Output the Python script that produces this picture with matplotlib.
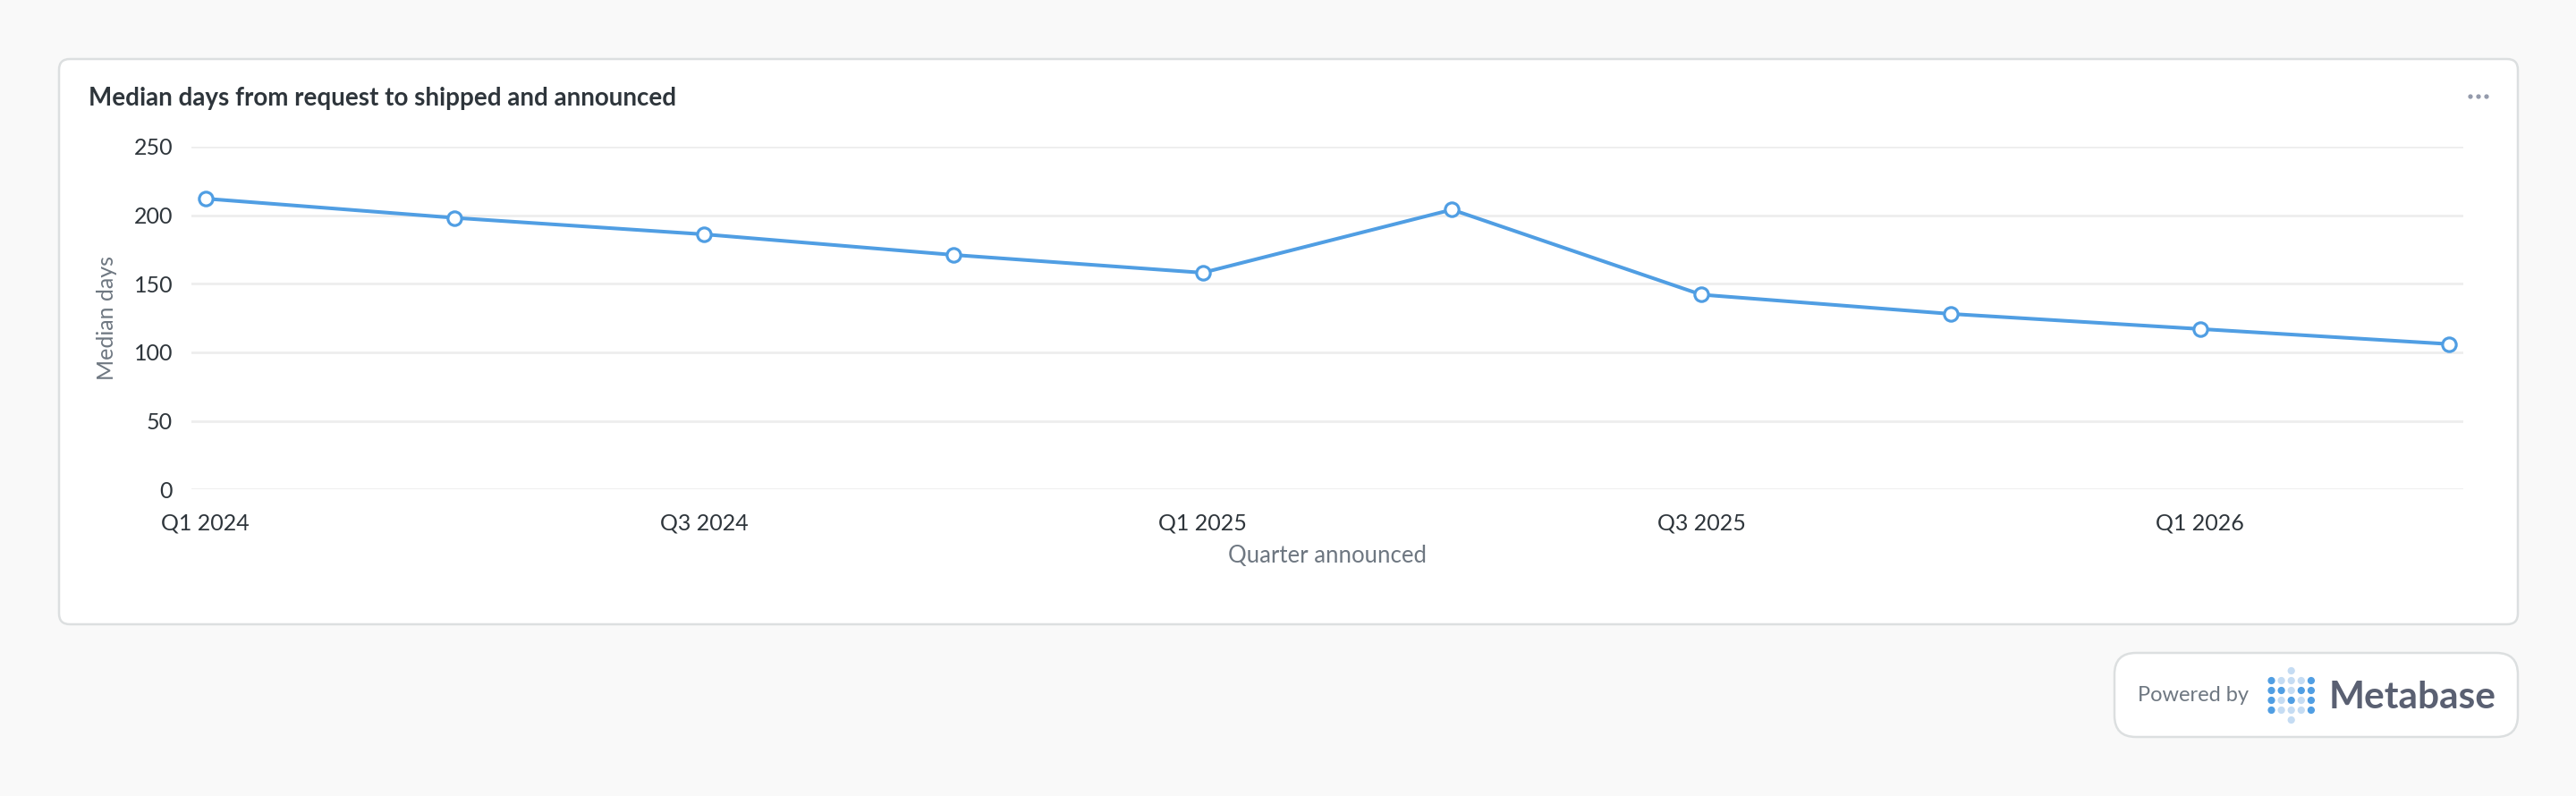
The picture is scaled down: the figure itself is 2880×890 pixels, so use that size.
import matplotlib.pyplot as plt
from matplotlib.patches import FancyBboxPatch, Circle

# chart data
quarters = ['Q1 2024', 'Q2 2024', 'Q3 2024', 'Q4 2024', 'Q1 2025',
            'Q2 2025', 'Q3 2025', 'Q4 2025', 'Q1 2026', 'Q2 2026']
median_days = [212, 198, 186, 171, 158, 204, 142, 128, 117, 106]
y_ticks = [0, 50, 100, 150, 200, 250]

title = 'Median days from request to shipped and announced'
x_label = 'Quarter announced'
y_label = 'Median days'

BLUE = '#509ee3'
TEXT_DARK = '#2e353b'
TEXT_GRAY = '#6e7781'
GRID = '#eeeeee'
BORDER = '#dcdfe0'
BG = '#f9f9f9'

W, H = 2880, 890
fig = plt.figure(figsize=(W / 100, H / 100), dpi=100)
fig.patch.set_facecolor(BG)

# overlay in pixel coordinates for the card, badge and decorations
bg = fig.add_axes([0, 0, 1, 1], zorder=0)
bg.set_xlim(0, W)
bg.set_ylim(H, 0)
bg.axis('off')

card = FancyBboxPatch((66, 66), 2815 - 66, 698 - 66,
                      boxstyle='round,pad=0,rounding_size=12',
                      facecolor='white', edgecolor=BORDER, linewidth=1.8)
bg.add_patch(card)

badge = FancyBboxPatch((2364, 730), 2815 - 2364, 824 - 730,
                       boxstyle='round,pad=0,rounding_size=24',
                       facecolor='white', edgecolor=BORDER, linewidth=1.8)
bg.add_patch(badge)

bg.text(99, 110, title, fontsize=20, fontweight='bold', family='Lato',
        color=TEXT_DARK, va='center', ha='left')

# "..." menu
for dx in (2762, 2771, 2780):
    bg.add_patch(Circle((dx, 108), 1.9, color='#949aab'))

# Powered by Metabase badge
bg.text(2390, 778, 'Powered by', fontsize=17, family='Lato',
        color=TEXT_GRAY, va='center', ha='left')
bg.text(2604, 780, 'Metabase', fontsize=30.5, fontweight='bold', family='Lato',
        color='#5a6072', va='center', ha='left')

light = '#c5dcf3'
logo_rows = [
    [None, None, light, None, None],
    [BLUE, light, light, light, BLUE],
    [BLUE, BLUE, light, BLUE, BLUE],
    [BLUE, light, BLUE, light, BLUE],
    [BLUE, light, light, light, BLUE],
    [None, None, light, None, None],
]
for r, row in enumerate(logo_rows):
    for c, col in enumerate(row):
        if col:
            bg.add_patch(Circle((2539.5 + c * 11.1, 750 + r * 11), 3.4, color=col))

# main chart
ax = fig.add_axes([214 / W, 1 - 547.3 / H, (2754 - 214) / W, (547.3 - 163.8) / H], zorder=1)
ax.patch.set_alpha(0)
x = list(range(len(quarters)))
ax.plot(x, median_days, color=BLUE, linewidth=2.9, marker='o', markersize=11,
        markerfacecolor='white', markeredgecolor=BLUE, markeredgewidth=2.3,
        clip_on=False, zorder=3)

ax.set_xlim(-0.056, len(quarters) - 1 + 0.056)
ax.set_ylim(0, 250)
ax.set_yticks(y_ticks)
ax.set_xticks(x[::2])
ax.set_xticklabels(quarters[::2])
ax.grid(axis='y', color=GRID, linewidth=2)
ax.set_axisbelow(True)
for s in ax.spines.values():
    s.set_visible(False)
ax.tick_params(length=0, labelsize=18, labelcolor=TEXT_DARK)
ax.tick_params(axis='y', pad=15)
ax.tick_params(axis='x', pad=19)
for lbl in ax.get_xticklabels() + ax.get_yticklabels():
    lbl.set_family('Lato')

ax.set_xlabel(x_label, fontsize=18.5, family='Lato', color=TEXT_GRAY, labelpad=9)
ax.set_ylabel(y_label, fontsize=18, family='Lato', color=TEXT_GRAY, labelpad=13)

fig.savefig('out.png', dpi=100, facecolor=BG)
